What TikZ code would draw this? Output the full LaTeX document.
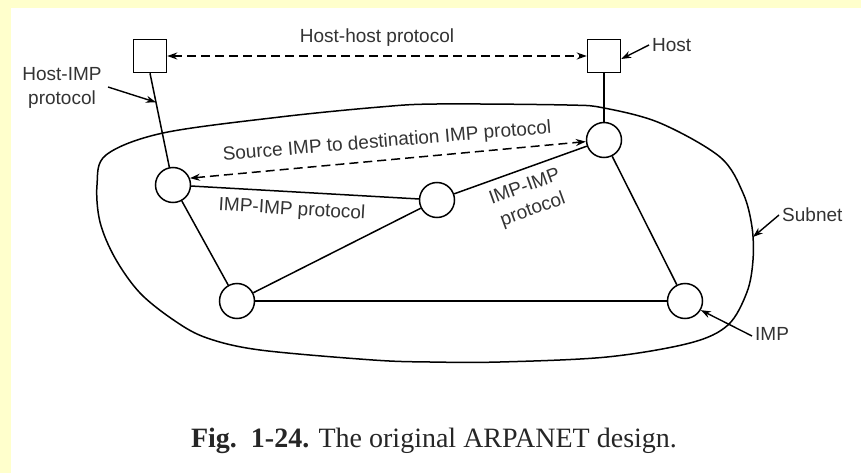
\documentclass[tikz,border=0pt]{standalone}
\usepackage{fontspec}
\setmainfont{Liberation Serif}
\newfontfamily\labfont{Liberation Sans}
\usetikzlibrary{arrows.meta,calc}
\definecolor{bgyellow}{HTML}{FFFFCC}
\definecolor{labgray}{HTML}{333333}
\tikzset{
  hostbox/.style={draw, line width=1.5pt, minimum size=33pt, inner sep=0pt},
  imp/.style={draw, circle, line width=1.5pt, minimum size=35pt, inner sep=0pt},
  link/.style={line width=1.5pt},
  lab/.style={font=\labfont\fontsize{19}{24}\selectfont, text=labgray, inner sep=0pt, align=center},
  dasharrow/.style={line width=1.5pt, dash pattern=on 9pt off 5pt, {Stealth[length=10pt,width=7pt]}-{Stealth[length=10pt,width=7pt]}},
  ptr/.style={line width=1.4pt, -{Stealth[length=10pt,width=7pt]}},
}
\begin{document}
\begin{tikzpicture}[x=1pt,y=-1pt]
\useasboundingbox (0,0) rectangle (861,473);
\fill[bgyellow] (0,0) rectangle (861,473);
\fill[white] (11,8) rectangle (861,473);

% subnet outline
\draw[line width=1.5pt] plot[smooth cycle, tension=0.55] coordinates {
 (163,133) (280,117) (380,107) (437,104) (567,105) (604,108) (660,123) (720,157)
 (743,193) (752,227) (753,260) (747,292) (728,325) (690,343) (607,357) (500,362)
 (430,362) (373,360) (260,350) (207,338) (175,321) (140,293) (115,258) (100,222)
 (97,185) (106,155)};

% hosts
\node[hostbox] (h1) at (150,56) {};
\node[hostbox] (h2) at (604,56) {};
% IMPs
\node[imp] (i1) at (173,185) {};
\node[imp] (i2) at (237,301) {};
\node[imp] (i3) at (437,200) {};
\node[imp] (i4) at (604,140) {};
\node[imp] (i5) at (685,301) {};

% links
\draw[link] (h1.south) -- (i1);
\draw[link] (h2) -- (i4);
\draw[link] (i1) -- (i3);
\draw[link] (i1) -- (i2);
\draw[link] (i2) -- (i3);
\draw[link] (i2) -- (i5);
\draw[link] (i3) -- (i4);
\draw[link] (i4) -- (i5);

% protocol arrows
\draw[dasharrow] (h1) -- (h2);
\draw[dasharrow] (i1.22) -- (i4.185);

% labels
\node[lab] (hh) at (377,38) {Host-host protocol};
\node[lab] (sd) at (387,142) [rotate=4.8] {Source IMP to destination IMP protocol};
\node[lab] (ii1) at (292,210) [rotate=-3.3] {IMP-IMP protocol};
\node[lab] (ii2) at (529,199) [rotate=20] {IMP-IMP\\protocol};
\node[lab] (hi) at (62,88) {Host-IMP\\protocol};
\node[lab, anchor=west] (hl) at (652,45) {Host};
\node[lab, anchor=west] (sl) at (782,215) {Subnet};
\node[lab, anchor=west] (il) at (755,334) {IMP};

\coordinate (hip) at ($(h1.south)!0.26!(i1)$);
\coordinate (snp) at (753,237);
\coordinate (hit) at (108,87);
\draw[ptr] (hit) -- (hip);
\draw[ptr] ([xshift=-3pt]hl.west) -- ([yshift=-3pt]h2.east);
\draw[ptr] ([xshift=-3pt]sl.west) -- (snp);
\draw[ptr] ([xshift=-3pt,yshift=-2pt]il.west) -- (i5.-30);

% caption
\node[font=\fontsize{28}{32}\selectfont, text=black!85, inner sep=0pt, anchor=base] (cap) at (434,447)
  {\textbf{Fig.\ \ 1-24.} The original ARPANET design.};
\end{tikzpicture}
\end{document}
